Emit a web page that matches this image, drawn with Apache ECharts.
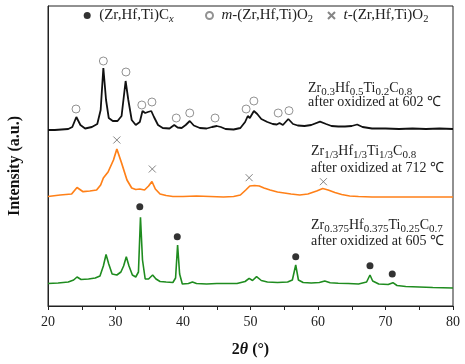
<!DOCTYPE html>
<html><head><meta charset="utf-8">
<script src="https://cdn.jsdelivr.net/npm/echarts@6/dist/echarts.min.js"></script>
<style>html,body{margin:0;padding:0;background:#fff}#c{width:465px;height:364px}</style>
</head><body><div id="c"></div>
<script>
// ---- data (2θ in degrees, intensity in arbitrary units, stacked offsets included) ----
const blackX = [20.0,21.0,22.0,23.0,23.6,24.2,24.8,25.5,26.5,27.3,27.8,28.2,28.6,29.0,29.6,30.3,30.9,31.5,31.9,32.4,33.0,33.6,34.0,34.4,34.8,35.3,35.7,36.3,37.0,38.0,38.7,39.2,39.8,40.4,41.0,41.6,42.5,43.5,44.3,45.0,45.6,46.3,47.5,48.5,49.2,49.6,49.9,50.5,51.0,51.6,52.5,53.3,53.9,54.3,54.8,55.6,56.3,57.0,58.0,59.0,60.3,61.2,62.0,63.0,64.0,65.0,65.8,66.6,68.0,70.0,72.0,74.0,76.0,78.0,80.0];
const blackY = [176,176,176.5,177,179,189,181,177.5,179,182,196,238,206,188,185,185,190,225,206,186,181,184,195,193,194,195,189,181,178,177.5,181,178.5,178,181,185,180.5,178,177.5,179,180,179,177,176.5,178,184,190,188,195,192,187,184,182,181.5,183,181,187,182,180.5,180,181,184.3,182,180,179.5,179.5,180,181.5,179,177.5,177.5,177,177.5,177,177.5,177];

const orangeX = [20.0,21.8,23.5,24.3,25.2,26.2,27.2,27.8,28.2,28.9,29.7,30.2,30.9,31.7,32.4,33.0,33.6,34.3,34.9,35.4,35.9,36.6,37.5,38.5,40.0,42.0,44.0,46.0,47.5,48.5,49.3,49.9,50.6,51.3,52.0,52.9,54.0,55.0,56.0,57.3,58.5,59.8,60.7,61.5,62.5,63.5,64.7,66.0,68.0,70.0,73.0,76.0,80.0];
const orangeY = [109.5,111,112,118.5,114.3,115,116,121,128,134,146,157,143,126,118,116.5,117,116,120,124.5,117,112,110.5,109.5,109.5,110,109.5,109,109.5,111,116,120,120.5,120,118,116,114,113,112,111,112,115,117.5,116,113.5,111.5,110,109.5,109,109,109,109,109];

const greenX = [20.0,21.5,23.0,23.8,24.3,24.9,26.0,27.0,27.7,28.2,28.6,29.0,29.5,30.2,30.8,31.2,31.6,32.0,32.5,33.0,33.4,33.7,34.0,34.4,34.9,35.5,36.0,36.6,37.5,38.5,38.9,39.2,39.5,39.9,40.8,41.4,42.0,43.5,45.0,46.5,48.0,49.2,49.8,50.3,50.9,51.6,52.5,54.0,55.5,56.2,56.7,57.1,57.8,59.0,60.2,61.0,61.8,63.0,64.5,66.0,67.2,67.7,68.1,69.0,70.4,71.1,71.7,73.0,75.0,77.0,80.0];
const greenY = [22.5,23,24,26,29,26.5,27,28,30,40,51.5,42,32,31,34,40,49.3,40,31,29,34,88.7,46,27,27,31,27,24.5,24,23.5,28,61,32,22,22.5,24,22.5,22,22.5,22.5,22.5,24.5,27.7,25.5,29.3,25.5,24,23.5,24,26,41,26,23.5,23,23.5,25,23.2,22.7,22.5,22,24,31,25,22,21.5,23.3,20.5,19.5,19,18.5,18];

// phase markers [2θ, position]
const carbideMarks = [[33.6,99.3],[39.15,69.3],[56.7,49.3],[67.7,40.3],[71.0,32]];
const monoclinicMarks = [[24.15,197],[28.2,245],[31.55,234],[33.9,201],[35.4,204],[39.0,188],[41.0,193],[44.75,188],[49.35,197],[50.5,205],[54.1,193],[55.7,195.3]];
const tetragonalMarks = [[30.2,166],[35.45,137],[49.8,128.3],[60.8,124.3]];

const xTicks = [20,30,40,50,60,70,80];

// ---- chart ----
const FONT = 'Liberation Serif';
const zip = (xs, ys) => xs.map((x, i) => [x, ys[i]]);
const chart = echarts.init(document.getElementById('c'), null, {renderer: 'canvas'});

function makeRich(main, sub, drop) {
  return {
    n: {fontFamily: FONT, fontSize: main, fill: '#222', color: '#222', verticalAlign: 'middle'},
    s: {fontFamily: FONT, fontSize: sub, fill: '#222', color: '#222', padding: [drop, 0, 0, 0], verticalAlign: 'middle'},
    si: {fontFamily: FONT, fontSize: sub, fontStyle: 'italic', fill: '#222', color: '#222', padding: [drop, 0, 0, 0], verticalAlign: 'middle'},
    i: {fontFamily: FONT, fontSize: main, fontStyle: 'italic', fill: '#222', color: '#222', verticalAlign: 'middle'}
  };
}
const annRich = makeRich(14, 11, 8);
const legRich = makeRich(15, 10.5, 8);

function annot(x, y, parts) {
  return {type: 'text', x: x, y: y, z: 100,
    style: {text: parts, rich: annRich, fontFamily: FONT, fontSize: 14, fill: '#222', verticalAlign: 'middle', align: 'left'}};
}

const legendNames = ['(Zr,Hf,Ti)Cx', 'm-(Zr,Hf,Ti)O2', 't-(Zr,Hf,Ti)O2'];
const legendFmt = {
  '(Zr,Hf,Ti)Cx': '{n|(Zr,Hf,Ti)C}{si|x}',
  'm-(Zr,Hf,Ti)O2': '{i|m}{n|-(Zr,Hf,Ti)O}{s|2}',
  't-(Zr,Hf,Ti)O2': '{i|t}{n|-(Zr,Hf,Ti)O}{s|2}'
};
const legendLeft = [83.7, 205, 327];
const legends = legendNames.map((nm, k) => ({
  data: [nm], left: legendLeft[k], top: 8, padding: 0, orient: 'horizontal',
  itemWidth: 14, itemHeight: 7, selectedMode: false,
  formatter: n => legendFmt[n],
  textStyle: {fontFamily: FONT, fontSize: 15, color: '#222', rich: legRich}
}));

const lineBase = {type: 'line', showSymbol: false, symbol: 'none', smooth: false, silent: true, animation: false};

chart.setOption({
  animation: false,
  backgroundColor: '#fff',
  grid: {left: 48, right: 12, top: 6, bottom: 58, show: true, borderColor: '#222', borderWidth: 1, backgroundColor: 'transparent'},
  legend: legends,
  xAxis: {
    type: 'value', min: 20, max: 80, interval: 5,
    axisLine: {show: true, lineStyle: {color: '#222', width: 1}},
    axisTick: {show: true, inside: false, length: 4, lineStyle: {color: '#222'}},
    axisLabel: {margin: 9, fontFamily: FONT, fontSize: 14, color: '#222',
      formatter: v => (xTicks.indexOf(v) >= 0 ? String(v) : '')},
    splitLine: {show: false},
    name: '{b|2}{bi|θ}{b| (°)}', nameLocation: 'middle', nameGap: 36,
    nameTextStyle: {rich: {
      b: {fontFamily: FONT, fontSize: 16, fontWeight: 'bold', color: '#111'},
      bi: {fontFamily: FONT, fontSize: 16, fontWeight: 'bold', fontStyle: 'italic', color: '#111'}
    }}
  },
  yAxis: {
    type: 'value', min: 0, max: 300,
    axisLine: {show: true, lineStyle: {color: '#222'}},
    axisTick: {show: false}, axisLabel: {show: false}, splitLine: {show: false}
  },
  graphic: [
    {type: 'text', x: 15, y: 166, rotation: Math.PI / 2, z: 100,
      style: {text: 'Intensity (a.u.)', fontFamily: FONT, fontSize: 16, fontWeight: 'bold', fill: '#111', align: 'center', verticalAlign: 'middle'}},
    annot(308, 88, '{n|Zr}{s|0.3}{n|Hf}{s|0.5}{n|Ti}{s|0.2}{n|C}{s|0.8}'),
    annot(308, 102.5, '{n|after oxidized at 602 ℃}'),
    annot(311, 151.5, '{n|Zr}{s|1/3}{n|Hf}{s|1/3}{n|Ti}{s|1/3}{n|C}{s|0.8}'),
    annot(311, 168.5, '{n|after oxidized at 712 ℃}'),
    annot(311, 225, '{n|Zr}{s|0.375}{n|Hf}{s|0.375}{n|Ti}{s|0.25}{n|C}{s|0.7}'),
    annot(311, 241.5, '{n|after oxidized at 605 ℃}')
  ],
  series: [
    Object.assign({}, lineBase, {name: 'Zr0.3Hf0.5Ti0.2C0.8', data: zip(blackX, blackY), lineStyle: {color: '#111', width: 1.8}, z: 3}),
    Object.assign({}, lineBase, {name: 'Zr1/3Hf1/3Ti1/3C0.8', data: zip(orangeX, orangeY), lineStyle: {color: '#ff8018', width: 1.7}, z: 3}),
    Object.assign({}, lineBase, {name: 'Zr0.375Hf0.375Ti0.25C0.7', data: zip(greenX, greenY), lineStyle: {color: '#1f8c1f', width: 1.6}, z: 3}),
    {type: 'scatter', name: '(Zr,Hf,Ti)Cx', data: carbideMarks, symbol: 'circle', symbolSize: 7, silent: true,
      itemStyle: {color: '#000'}, z: 5},
    {type: 'scatter', name: 'm-(Zr,Hf,Ti)O2', data: monoclinicMarks, symbol: 'circle', symbolSize: 8, silent: true,
      itemStyle: {color: 'rgba(255,255,255,0)', borderColor: '#777', borderWidth: 1}, z: 5},
    {type: 'scatter', name: 't-(Zr,Hf,Ti)O2', data: tetragonalMarks, symbol: 'path://M0,0L10,10M0,10L10,0', symbolSize: 7, silent: true,
      itemStyle: {color: 'rgba(255,255,255,0)', borderColor: '#666', borderWidth: 1}, z: 5}
  ]
});
</script>
</body></html>
